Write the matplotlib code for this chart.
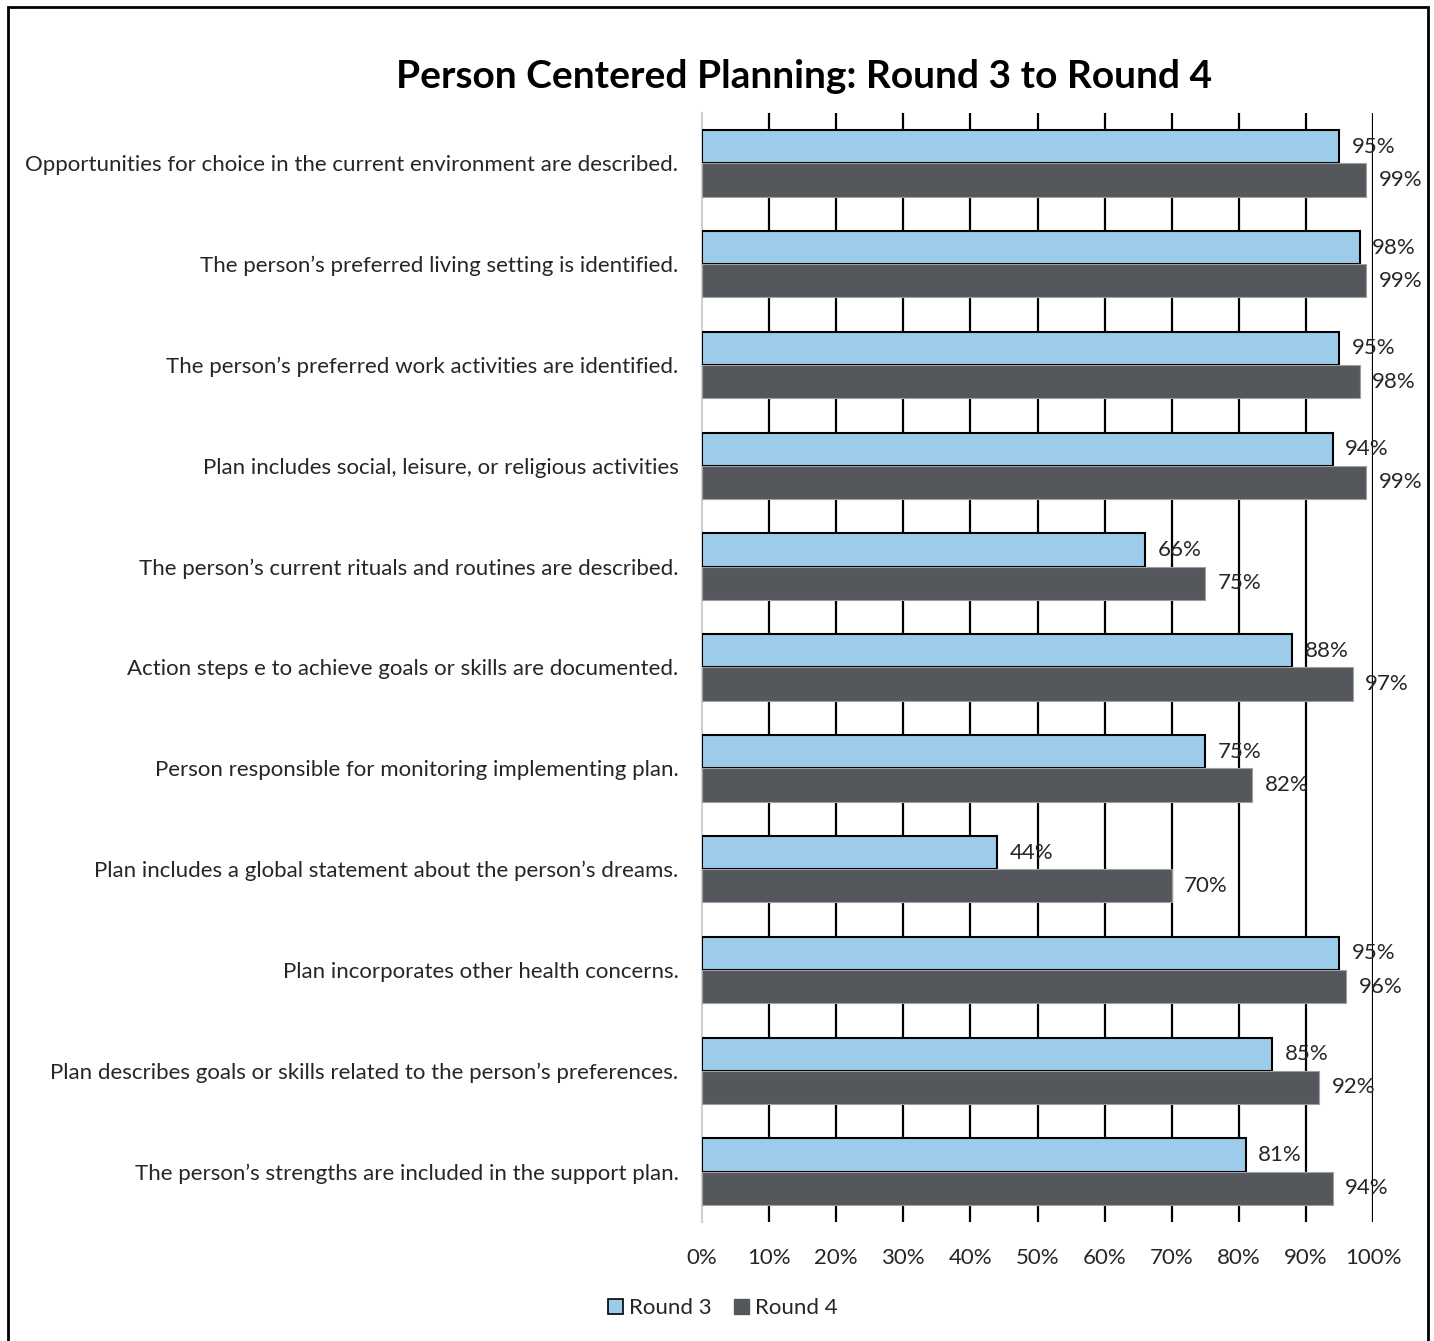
import matplotlib.pyplot as plt
import numpy as np
from matplotlib.patches import Rectangle, Patch

plt.rcParams['font.family'] = ['Lato', 'DejaVu Sans']

categories = [
    "Opportunities for choice in the current environment are described.",
    "The person\u2019s preferred living setting is identified.",
    "The person\u2019s preferred work activities are identified.",
    "Plan includes social, leisure, or religious activities",
    "The person\u2019s current rituals and routines are described.",
    "Action steps e to achieve goals or skills are documented.",
    "Person responsible for monitoring implementing plan.",
    "Plan includes a global statement about the person\u2019s dreams.",
    "Plan incorporates other health concerns.",
    "Plan describes goals or skills related to the person\u2019s preferences.",
    "The person\u2019s strengths are included in the support plan.",
]
round3 = [95, 98, 95, 94, 66, 88, 75, 44, 95, 85, 81]
round4 = [99, 99, 98, 99, 75, 97, 82, 70, 96, 92, 94]
xticks = [0, 10, 20, 30, 40, 50, 60, 70, 80, 90, 100]

c3 = '#9dcbea'
c4 = '#54575c'
txt = '#262626'
fs = 16

fig = plt.figure(figsize=(14.34, 13.41), dpi=100)
ax = fig.add_axes([702/1434, 1 - 1222/1341, 671/1434, 1109/1341])

y = np.arange(len(categories))
h = 0.33
b3 = ax.barh(y - h/2, round3, height=h, color=c3, edgecolor='black', linewidth=1.5, zorder=3)
b4 = ax.barh(y + h/2, round4, height=h, color=c4, edgecolor='#a0a0a0', linewidth=0.8, zorder=3)

for bars, vals in ((b3, round3), (b4, round4)):
    for bar, v in zip(bars, vals):
        ax.annotate(f"{v}%", (bar.get_width(), bar.get_y() + bar.get_height()/2),
                    xytext=(9, 0), textcoords='offset points', va='center', ha='left',
                    fontsize=fs, color=txt, zorder=5)

ax.set_xlim(0, 100)
ax.set_ylim(len(categories) - 0.5, -0.5)
ax.set_xticks(xticks)
ax.set_xticklabels([f"{t}%" for t in xticks], fontsize=fs, color=txt)
ax.set_yticks(y)
ax.set_yticklabels(categories, fontsize=fs, color=txt)
ax.tick_params(axis='both', length=0)
ax.tick_params(axis='x', pad=19)
ax.tick_params(axis='y', pad=17)

for t in xticks[1:]:
    ax.axvline(t, color='black', linewidth=1.6, zorder=1)

for s in ('top', 'right', 'bottom'):
    ax.spines[s].set_visible(False)
ax.spines['left'].set_color('#d0d0d0')
ax.spines['left'].set_linewidth(1.5)

fig.text(804/1434, 1 - 76/1341, "Person Centered Planning: Round 3 to Round 4",
         ha='center', va='center', fontsize=28, fontweight='bold', color='black')

handles = [Patch(facecolor=c3, edgecolor='black', linewidth=1.2, label='Round 3'),
           Patch(facecolor=c4, edgecolor=c4, label='Round 4')]
fig.legend(handles=handles, loc='center', bbox_to_anchor=(723/1434, 1 - 1308/1341),
           ncol=2, frameon=False, fontsize=fs, handlelength=0.65, handleheight=0.65,
           handletextpad=0.3, columnspacing=1.0, labelcolor=txt)

fig.add_artist(Rectangle((8/1434, -0.01), 1420/1434, 1 - 7/1341 + 0.01,
                         transform=fig.transFigure, fill=False, edgecolor='black', linewidth=2))

fig.savefig('out.png', dpi=100, facecolor='white')
